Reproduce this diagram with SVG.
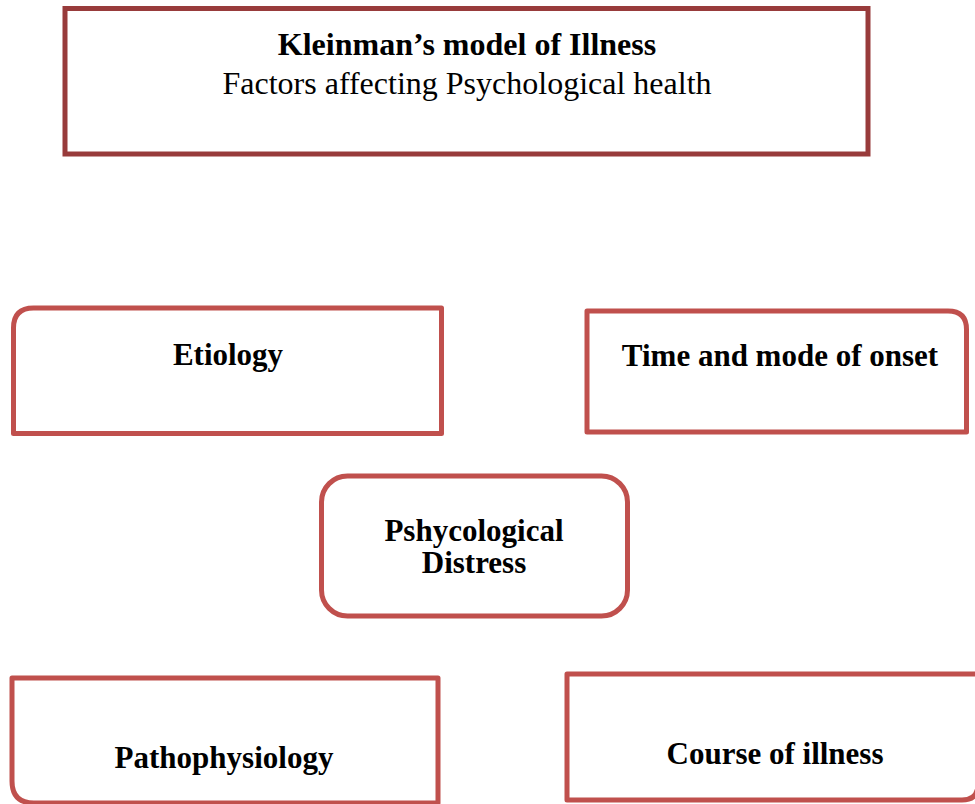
<svg xmlns="http://www.w3.org/2000/svg" width="975" height="804" viewBox="0 0 975 804">
<style>
.box{fill:#ffffff;stroke:#C0504D;stroke-width:5;stroke-linejoin:round}
.top{fill:#ffffff;stroke:#983B3B;stroke-width:5}
text{font-family:"Liberation Serif","Times New Roman",serif;fill:#000;text-anchor:middle}
.b{font-weight:bold;font-size:31px}
.t{font-size:32px}
</style>
<rect width="975" height="804" fill="#ffffff"/>
<g id="connectors"></g>
<g id="title">
<rect class="top" x="65" y="8.5" width="803" height="145.5"/>
<text class="b" x="467" y="55" style="font-size:32px">Kleinman’s model of Illness</text>
<text class="t" x="467" y="94">Factors affecting Psychological health</text>
</g>
<g id="etiology">
<path class="box" d="M13.5,433.5 V328 Q13.5,308 33.5,308 H441.5 V433.5 Z"/>
<text class="b" x="228" y="365">Etiology</text>
</g>
<g id="onset">
<path class="box" d="M587,432 V311 H948 Q966.5,311 966.5,329.5 V432 Z"/>
<text class="b" x="780" y="366">Time and mode of onset</text>
</g>
<g id="distress">
<rect class="box" x="321.5" y="476" width="306" height="140" rx="26" ry="26"/>
<text class="b" x="474" y="541">Pshycological</text>
<text class="b" x="474" y="573">Distress</text>
</g>
<g id="pathophysiology">
<path class="box" d="M12,678 H438 V803 H34 Q12,803 12,781 Z"/>
<text class="b" x="224" y="768">Pathophysiology</text>
</g>
<g id="course">
<path class="box" d="M567,674 H978 V784 Q978,800 962,800 H567 Z"/>
<text class="b" x="775" y="764">Course of illness</text>
</g>
</svg>
